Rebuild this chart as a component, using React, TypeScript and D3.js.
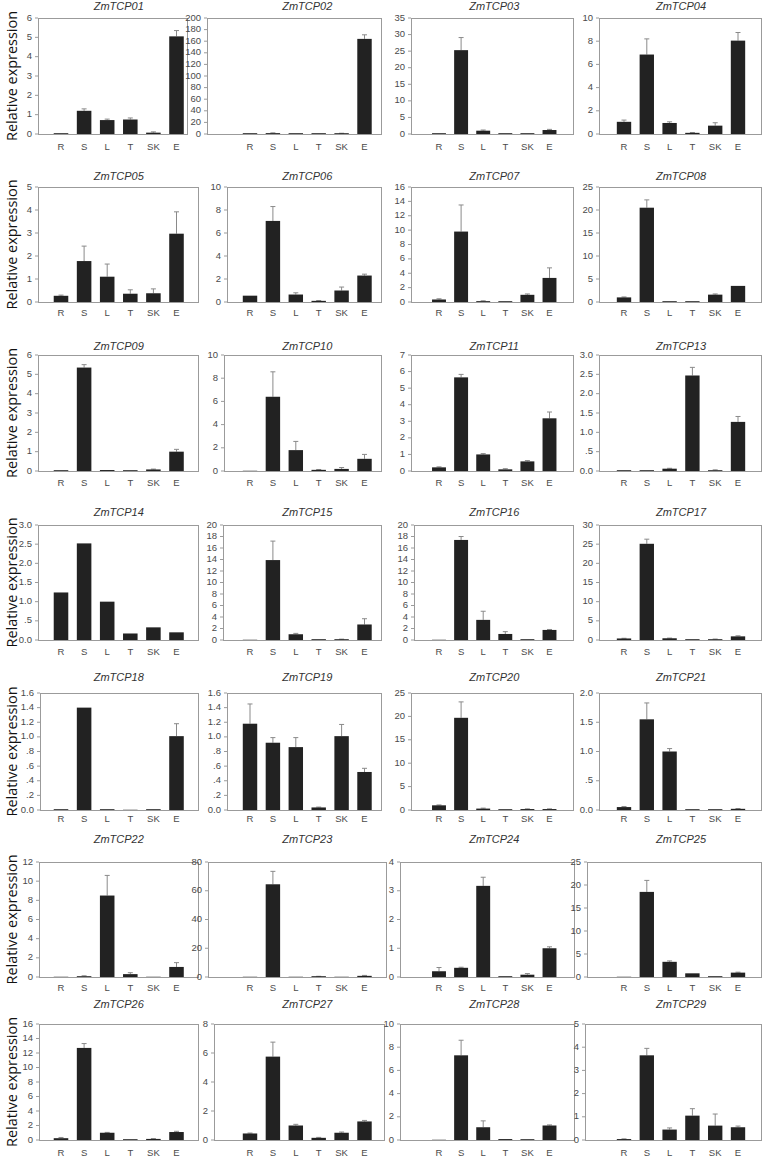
import React from "react";
import * as d3 from "d3";

// ---------- DATA ----------
const CATEGORIES = ["R", "S", "L", "T", "SK", "E"];

const GENES = [
  "ZmTCP01", "ZmTCP02", "ZmTCP03", "ZmTCP04",
  "ZmTCP05", "ZmTCP06", "ZmTCP07", "ZmTCP08",
  "ZmTCP09", "ZmTCP10", "ZmTCP11", "ZmTCP13",
  "ZmTCP14", "ZmTCP15", "ZmTCP16", "ZmTCP17",
  "ZmTCP18", "ZmTCP19", "ZmTCP20", "ZmTCP21",
  "ZmTCP22", "ZmTCP23", "ZmTCP24", "ZmTCP25",
  "ZmTCP26", "ZmTCP27", "ZmTCP28", "ZmTCP29",
];

const Y_MAX = [6, 200, 35, 10, 5, 10, 16, 25, 6, 10, 7, 3, 3, 20, 20, 30, 1.6, 1.6, 25, 2, 12, 80, 4, 25, 16, 8, 10, 5];
const Y_STEP = [1, 20, 5, 2, 1, 2, 2, 5, 1, 2, 1, 0.5, 0.5, 2, 2, 5, 0.2, 0.2, 5, 0.5, 2, 20, 1, 5, 2, 2, 2, 1];
// decimal-style tick labels ("0.0", ".5", "1.0")
const DECIMAL_TICKS = [false, false, false, false, false, false, false, false, false, false, false, true, true, false, false, false, true, true, false, true, false, false, false, false, false, false, false, false];

const MEANS: number[][] = [
  [0.02, 1.2, 0.72, 0.75, 0.07, 5.05],
  [0.3, 1.5, 0.2, 0.3, 1.0, 164],
  [0.2, 25.3, 1.0, 0.15, 0.15, 1.2],
  [1.05, 6.85, 0.95, 0.1, 0.72, 8.05],
  [0.27, 1.78, 1.1, 0.36, 0.38, 2.97],
  [0.55, 7.05, 0.65, 0.1, 1.0, 2.3],
  [0.35, 9.8, 0.12, 0.08, 1.0, 3.35],
  [1.0, 20.5, 0.1, 0.08, 1.6, 3.5],
  [0.02, 5.35, 0.05, 0.02, 0.08, 1.0],
  [0.0, 6.4, 1.8, 0.1, 0.18, 1.05],
  [0.22, 5.65, 1.0, 0.1, 0.58, 3.18],
  [0.01, 0.01, 0.06, 2.47, 0.02, 1.27],
  [1.24, 2.52, 1.0, 0.17, 0.33, 0.2],
  [0.0, 13.9, 1.0, 0.02, 0.1, 2.7],
  [0.0, 17.4, 3.5, 1.05, 0.1, 1.75],
  [0.4, 25.1, 0.45, 0.1, 0.2, 0.95],
  [0.005, 1.4, 0.005, 0.0, 0.01, 1.01],
  [1.18, 0.92, 0.86, 0.035, 1.01, 0.52],
  [1.0, 19.7, 0.3, 0.05, 0.2, 0.2],
  [0.05, 1.55, 1.0, 0.005, 0.005, 0.02],
  [0.0, 0.08, 8.5, 0.3, 0.0, 1.05],
  [0.0, 64.5, 0.0, 0.3, 0.0, 0.8],
  [0.2, 0.32, 3.17, 0.02, 0.08, 1.0],
  [0.0, 18.5, 3.3, 0.8, 0.1, 0.95],
  [0.25, 12.7, 1.0, 0.08, 0.15, 1.1],
  [0.45, 5.75, 1.0, 0.15, 0.5, 1.28],
  [0.0, 7.3, 1.1, 0.08, 0.05, 1.25],
  [0.04, 3.65, 0.45, 1.05, 0.62, 0.55],
];

const ERRORS: number[][] = [
  [0, 0.1, 0.05, 0.08, 0.04, 0.3],
  [0, 0.5, 0, 0, 0.3, 7],
  [0, 3.8, 0.2, 0, 0, 0.2],
  [0.15, 1.35, 0.1, 0.03, 0.25, 0.7],
  [0.03, 0.65, 0.55, 0.17, 0.19, 0.95],
  [0, 1.25, 0.15, 0.03, 0.3, 0.12],
  [0.1, 3.7, 0.05, 0, 0.12, 1.4],
  [0.1, 1.7, 0, 0, 0.15, 0],
  [0, 0.15, 0, 0, 0.02, 0.12],
  [0, 2.15, 0.75, 0.03, 0.12, 0.38],
  [0.03, 0.18, 0.05, 0.04, 0.05, 0.38],
  [0, 0, 0.01, 0.21, 0.01, 0.14],
  [0, 0, 0, 0, 0, 0],
  [0, 3.3, 0.15, 0, 0.05, 1.0],
  [0, 0.6, 1.5, 0.4, 0, 0.08],
  [0.05, 1.2, 0.05, 0, 0.05, 0.15],
  [0, 0, 0, 0, 0, 0.17],
  [0.27, 0.07, 0.13, 0.005, 0.16, 0.05],
  [0.08, 3.4, 0.1, 0, 0.05, 0.05],
  [0.01, 0.28, 0.05, 0, 0, 0.005],
  [0, 0.05, 2.1, 0.15, 0, 0.45],
  [0, 9, 0, 0.2, 0, 0.3],
  [0.13, 0.02, 0.3, 0, 0.04, 0.05],
  [0, 2.5, 0.2, 0, 0, 0.1],
  [0.1, 0.6, 0.05, 0, 0.05, 0.1],
  [0.03, 1.0, 0.08, 0.03, 0.05, 0.07],
  [0, 1.3, 0.55, 0, 0, 0.05],
  [0.01, 0.3, 0.07, 0.3, 0.5, 0.05],
];

// ---------- LAYOUT ----------
const W = 764;
const H = 1157;
const ROW_TOP = [18, 187, 355, 525, 693, 862, 1024];
const ROW_ZERO = [134, 302, 471, 640, 810, 977, 1140];
const ROW_TITLE = [7, 177, 347, 513, 678, 840, 1005];
const ROW_LABEL_GAP = [13, 11, 12, 12, 9, 11, 13];
const PANEL_LEFT = [
  38, 207, 411, 599,
  38, 227, 411, 599,
  38, 224, 411, 599,
  38, 223, 414, 599,
  40, 227, 411, 599,
  39, 208, 400, 587,
  39, 214, 400, 585,
];
const PANEL_RIGHT = [
  188, 382, 574, 762,
  199, 382, 574, 762,
  199, 382, 574, 762,
  199, 382, 574, 762,
  199, 382, 574, 762,
  199, 387, 575, 762,
  199, 385, 575, 762,
];
const COL_CAT: [number, number][] = [[61, 176.5], [250, 364.5], [439, 549.5], [624, 738]];

const AXIS_COLOR = "#9b9b9b";
const TEXT_COLOR = "#4a4a4a";
const BAR_COLOR = "#222222";
const ERR_COLOR = "#8a8a8a";
const TICK_FONT = "'Liberation Sans', Arial, sans-serif";

function fmtTick(v: number, dec: boolean): string {
  if (!dec) return String(Math.round(v));
  if (Math.abs(v) < 1e-9) return "0.0";
  const s = v.toFixed(1);
  return v < 1 ? s.slice(1) : s;
}

function Panel({ i }: { i: number }) {
  const row = Math.floor(i / 4);
  const col = i % 4;
  const left = PANEL_LEFT[i];
  const right = PANEL_RIGHT[i];
  const top = ROW_TOP[row];
  const zero = ROW_ZERO[row];
  const y = d3.scaleLinear().domain([0, Y_MAX[i]]).range([zero, top]);
  const x = d3.scalePoint<string>().domain(CATEGORIES).range(COL_CAT[col]);
  const step = x.step();
  const bw = step * 0.63;
  const ticks = d3.range(0, Y_MAX[i] + Y_STEP[i] / 2, Y_STEP[i]);
  const titleX = (COL_CAT[col][0] + COL_CAT[col][1]) / 2;

  return (
    <g>
      <text x={titleX} y={ROW_TITLE[row]} textAnchor="middle" dominantBaseline="middle"
        fontFamily={TICK_FONT} fontStyle="italic" fontSize={11} fill="#333">
        {GENES[i]}
      </text>
      {MEANS[i].map((v, k) => {
        const cx = x(CATEGORIES[k]) as number;
        const yv = y(v);
        const e = ERRORS[i][k];
        return (
          <g key={k}>
            {e > 0 && (
              <g stroke={ERR_COLOR} strokeWidth={1}>
                <line x1={cx} x2={cx} y1={yv} y2={y(v + e)} />
                <line x1={cx - 2.5} x2={cx + 2.5} y1={y(v + e)} y2={y(v + e)} />
              </g>
            )}
            <rect x={cx - bw / 2} width={bw} y={Math.min(yv, zero - 0.8)} height={Math.max(zero - yv, 0.8)}
              fill={v > 0 ? BAR_COLOR : "#bbb"} />
          </g>
        );
      })}
      {/* box */}
      <rect x={left + 0.5} y={top + 0.5} width={right - left - 1} height={zero - top}
        fill="none" stroke={AXIS_COLOR} strokeWidth={1} />
      {ticks.map((t, k) => (
        <g key={k}>
          <line x1={left - 3} x2={left} y1={y(t)} y2={y(t)} stroke={AXIS_COLOR} />
          <text x={left - 6} y={y(t)} textAnchor="end" dominantBaseline="middle"
            fontFamily={TICK_FONT} fontSize={9.5} fill={TEXT_COLOR}>
            {fmtTick(t, DECIMAL_TICKS[i])}
          </text>
        </g>
      ))}
      {CATEGORIES.map((c) => (
        <text key={c} x={x(c) as number} y={zero + ROW_LABEL_GAP[row]} textAnchor="middle"
          dominantBaseline="middle" fontFamily={TICK_FONT} fontSize={9.5} fill={TEXT_COLOR}>
          {c}
        </text>
      ))}
    </g>
  );
}

export default function App() {
  return (
    <svg width={W} height={H} viewBox={`0 0 ${W} ${H}`}
      style={{ position: "absolute", left: 0, top: 0, background: "#fff" }}>
      <rect width={W} height={H} fill="#fff" />
      {ROW_TOP.map((t, r) => {
        const cy = (t + ROW_ZERO[r]) / 2;
        return (
          <text key={r} transform={`translate(16.5,${cy}) rotate(-90)`} textAnchor="middle"
            fontFamily="'Open Sans', 'Noto Sans', sans-serif" fontSize={15} fill="#111"
            textLength={130} lengthAdjust="spacingAndGlyphs">
            Relative expression
          </text>
        );
      })}
      {GENES.map((g, i) => <Panel key={g} i={i} />)}
    </svg>
  );
}
